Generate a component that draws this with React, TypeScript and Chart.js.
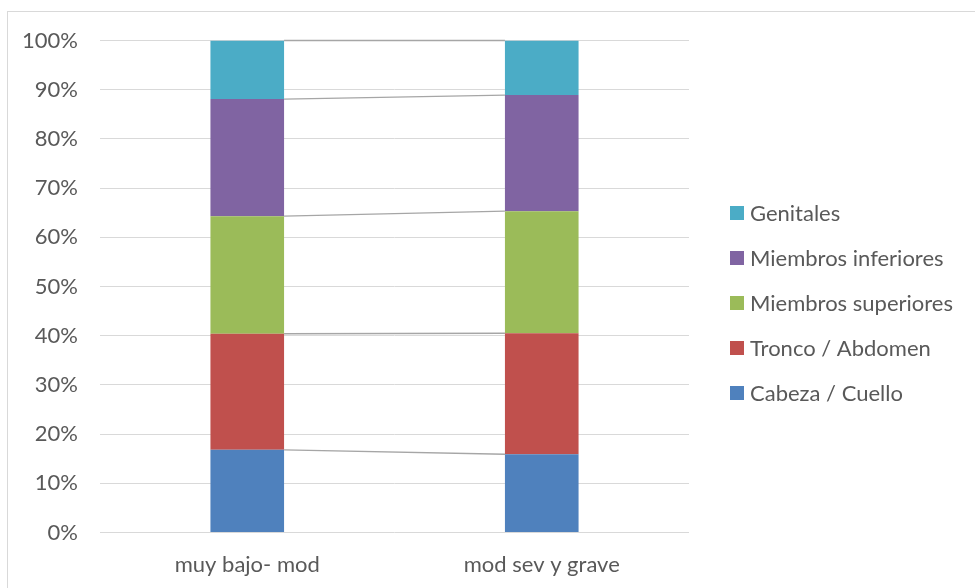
import { useEffect, useRef } from "react";
import { Chart, registerables } from "chart.js";

Chart.register(...registerables);

// Body region groups, per severity category (percent of each column)
const categories = ["muy bajo- mod", "mod sev y grave"];
const cabezaCuello = [16.8, 15.9];
const troncoAbdomen = [23.6, 24.6];
const miembrosSuperiores = [23.9, 24.8];
const miembrosInferiores = [23.8, 23.6];
const genitales = [11.9, 11.1];
const yTickValues = [0, 10, 20, 30, 40, 50, 60, 70, 80, 90, 100];

const FONT = "Lato, 'Open Sans', sans-serif";
const FONT_SIZE = 22;
const TEXT = "#595959";
const GRID = "#d9d9d9";

// Thin grey connector lines between the tops of each stacked segment
const seriesLines = {
  id: "seriesLines",
  beforeDatasetsDraw(chart: any) {
    const ctx = chart.ctx;
    ctx.save();
    ctx.strokeStyle = "#a6a6a6";
    ctx.lineWidth = 1.3;
    chart.data.datasets.forEach((_: any, i: number) => {
      const meta = chart.getDatasetMeta(i);
      const a = meta.data[0];
      const b = meta.data[1];
      if (!a || !b) return;
      ctx.beginPath();
      ctx.moveTo(a.x + a.width / 2, a.y);
      ctx.lineTo(b.x - b.width / 2, b.y);
      ctx.stroke();
    });
    ctx.restore();
  },
};

// Legend listed top-down in reverse stacking order
const sideLegend = {
  id: "sideLegend",
  afterDraw(chart: any) {
    const ctx = chart.ctx;
    const ds = chart.data.datasets;
    const x = 722;
    const top = 201;
    const step = 45;
    ctx.save();
    ctx.font = `${FONT_SIZE}px ${FONT}`;
    ctx.textBaseline = "middle";
    ctx.textAlign = "left";
    for (let k = 0; k < ds.length; k++) {
      const d = ds[ds.length - 1 - k];
      const cy = top + k * step;
      ctx.fillStyle = d.backgroundColor;
      ctx.fillRect(x, cy - 7, 14, 14);
      ctx.fillStyle = TEXT;
      ctx.fillText(d.label, x + 20, cy + 1);
    }
    ctx.restore();
  },
};

export default function App() {
  const ref = useRef<HTMLCanvasElement>(null);

  useEffect(() => {
    if (!ref.current) return;
    const mk = (label: string, data: number[], color: string) => ({
      label,
      data,
      backgroundColor: color,
      borderWidth: 0,
      barPercentage: 0.5,
      categoryPercentage: 0.5,
    });
    const chart = new Chart(ref.current, {
      type: "bar",
      data: {
        labels: categories,
        datasets: [
          mk("Cabeza / Cuello", cabezaCuello, "#4f81bd"),
          mk("Tronco / Abdomen", troncoAbdomen, "#c0504d"),
          mk("Miembros superiores", miembrosSuperiores, "#9bbb59"),
          mk("Miembros inferiores", miembrosInferiores, "#8064a2"),
          mk("Genitales", genitales, "#4bacc6"),
        ],
      },
      options: {
        responsive: false,
        animation: false,
        devicePixelRatio: 1,
        layout: { padding: { left: 0, right: 292, top: 28.5, bottom: 0 } },
        plugins: {
          legend: { display: false },
          tooltip: { enabled: false },
        },
        scales: {
          x: {
            stacked: true,
            grid: { display: false, drawTicks: false },
            border: { display: false },
            ticks: {
              color: TEXT,
              font: { family: FONT, size: FONT_SIZE },
              padding: 19,
            },
            afterFit(scale: any) {
              scale.height = 61.5;
            },
          },
          y: {
            stacked: true,
            min: 0,
            max: 100,
            afterBuildTicks(scale: any) {
              scale.ticks = yTickValues.map((v) => ({ value: v }));
            },
            grid: { color: GRID, lineWidth: 1, drawTicks: false },
            border: { display: false },
            ticks: {
              color: TEXT,
              font: { family: FONT, size: FONT_SIZE },
              padding: 22,
              callback: (v: any) => `${v}%`,
            },
            afterFit(scale: any) {
              scale.width = 92;
              scale.paddingTop = 0;
              scale.paddingBottom = 0;
            },
          },
        },
      },
      plugins: [seriesLines, sideLegend],
    });
    return () => chart.destroy();
  }, []);

  return (
    <div
      style={{
        position: "absolute",
        left: 7,
        top: 11,
        width: 975,
        height: 584,
        border: `1px solid ${GRID}`,
        boxSizing: "border-box",
        background: "#fff",
      }}
    >
      <canvas ref={ref} width={973} height={582} style={{ display: "block" }} />
    </div>
  );
}
